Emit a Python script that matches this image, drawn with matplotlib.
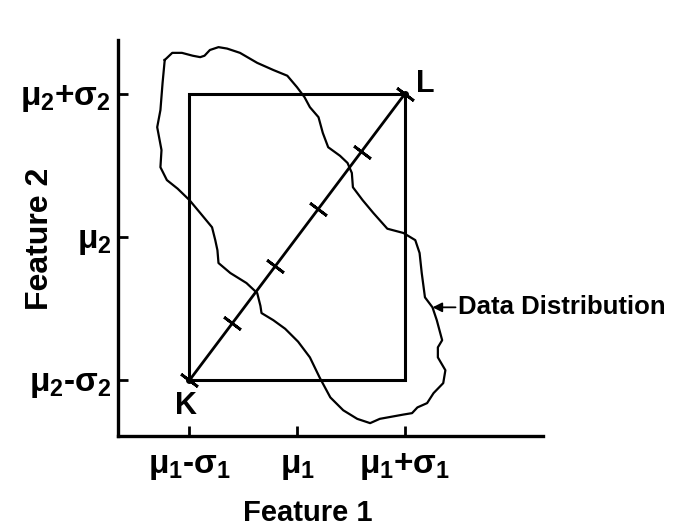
import numpy as np
import matplotlib
matplotlib.use("Agg")
import matplotlib.pyplot as plt

plt.rcParams['font.family'] = ['Liberation Sans', 'DejaVu Sans']
plt.rcParams['font.weight'] = 'bold'
plt.rcParams['mathtext.fontset'] = 'custom'
plt.rcParams['mathtext.rm'] = 'Liberation Sans:bold'
plt.rcParams['mathtext.it'] = 'Liberation Sans:bold'
plt.rcParams['mathtext.bf'] = 'Liberation Sans:bold'

# -------------------------
# data (units of sigma around the mean)
# -------------------------
x_ticks = [-1, 0, 1]
x_tick_labels = [r'$\mu_1$-$\sigma_1$', r'$\mu_1$', r'$\mu_1$+$\sigma_1$']
y_ticks = [-1, 0, 1]
y_tick_labels = [r'$\mu_2$-$\sigma_2$', r'$\mu_2$', r'$\mu_2$+$\sigma_2$']

# box corners (mu -/+ sigma) and the K -> L diagonal
box_x = [-1, 1, 1, -1, -1]
box_y = [-1, -1, 1, 1, -1]
diag_x = [-1, 1]
diag_y = [-1, 1]
diag_marks = [0.0, 0.2, 0.4, 0.6, 0.8, 1.0]   # fraction along K -> L

# outline of the data distribution
blob_x = [-1.23, -1.16, -1.07, -0.97, -0.90, -0.86, -0.81, -0.73, -0.65, -0.53,
          -0.37, -0.22, -0.09, 0.00, 0.07, 0.12, 0.20, 0.24, 0.29, 0.40,
          0.47, 0.51, 0.52, 0.61, 0.71, 0.84, 0.99, 1.10, 1.14, 1.16,
          1.19, 1.26, 1.30, 1.35, 1.31, 1.31, 1.38, 1.36, 1.27, 1.21,
          1.12, 1.07, 0.99, 0.77, 0.68, 0.56, 0.43, 0.31, 0.21, 0.12,
          0.01, -0.07, -0.11, -0.22, -0.33, -0.34, -0.37, -0.47, -0.62, -0.73,
          -0.74, -0.76, -0.79, -0.90, -1.00, -1.11, -1.21, -1.27, -1.26, -1.30,
          -1.27, -1.25, -1.23]
blob_y = [1.24, 1.29, 1.29, 1.27, 1.26, 1.27, 1.31, 1.33, 1.32, 1.29,
          1.22, 1.17, 1.13, 1.05, 0.98, 0.91, 0.84, 0.73, 0.63, 0.57,
          0.52, 0.45, 0.35, 0.26, 0.17, 0.06, 0.03, -0.02, -0.11, -0.25,
          -0.42, -0.49, -0.58, -0.72, -0.77, -0.84, -0.93, -1.02, -1.09, -1.16,
          -1.19, -1.23, -1.24, -1.27, -1.30, -1.27, -1.21, -1.12, -0.98, -0.84,
          -0.73, -0.67, -0.64, -0.58, -0.53, -0.48, -0.39, -0.32, -0.25, -0.18,
          -0.09, -0.02, 0.07, 0.17, 0.26, 0.34, 0.40, 0.49, 0.61, 0.77,
          0.89, 1.08, 1.24]

# -------------------------
# figure
# -------------------------
fig = plt.figure(figsize=(6.74, 5.29), dpi=100)
ax = fig.add_axes([0.175, 0.1758, 0.631, 0.7486])
ax.set_xlim(-1.665, 2.29)
ax.set_ylim(-1.39, 1.38)

for s in ['top', 'right']:
    ax.spines[s].set_visible(False)
for s in ['left', 'bottom']:
    ax.spines[s].set_linewidth(2.4)

ax.set_xticks(x_ticks)
ax.set_xticklabels(x_tick_labels)
ax.set_yticks(y_ticks)
ax.set_yticklabels(y_tick_labels)
ax.tick_params(direction='in', length=7, width=2, labelsize=24)
ax.tick_params(axis='x', pad=11)
ax.tick_params(axis='y', pad=5)

ax.set_xlabel('Feature 1', fontsize=21, fontweight='bold')
ax.set_ylabel('Feature 2', fontsize=23, fontweight='bold')
ax.xaxis.set_label_coords(0.447, -0.158)
ax.yaxis.set_label_coords(-0.147, 0.497)

# box and diagonal
ax.plot(box_x, box_y, color='black', lw=2.2, solid_joinstyle='miter')
ax.plot(diag_x, diag_y, color='black', lw=2.0)

# perpendicular cross marks along the diagonal
fig.canvas.draw()
p0 = ax.transData.transform((diag_x[0], diag_y[0]))
p1 = ax.transData.transform((diag_x[1], diag_y[1]))
ang = np.degrees(np.arctan2(p1[1] - p0[1], p1[0] - p0[0]))
mx = [diag_x[0] + t * (diag_x[1] - diag_x[0]) for t in diag_marks]
my = [diag_y[0] + t * (diag_y[1] - diag_y[0]) for t in diag_marks]
ax.plot(mx, my, linestyle='none', marker=(2, 2, ang), markersize=15,
        markeredgewidth=2.0, color='black')
ax.plot([diag_x[0], diag_x[1]], [diag_y[0], diag_y[1]], linestyle='none',
        marker='o', markersize=4, color='black')

# data distribution outline
ax.plot(blob_x, blob_y, color='black', lw=1.6)

ax.text(-1.03, -1.18, 'K', fontsize=22, fontweight='bold', ha='center', va='center')
ax.text(1.19, 1.07, 'L', fontsize=22, fontweight='bold', ha='center', va='center')

ax.annotate('Data Distribution', xy=(1.26, -0.49), xytext=(1.50, -0.49),
            fontsize=18.5, fontweight='bold', va='center', ha='left',
            arrowprops=dict(arrowstyle='-|>', color='black', lw=1.3,
                            mutation_scale=14, shrinkA=0, shrinkB=0))

fig.savefig('out.png', dpi=100)
